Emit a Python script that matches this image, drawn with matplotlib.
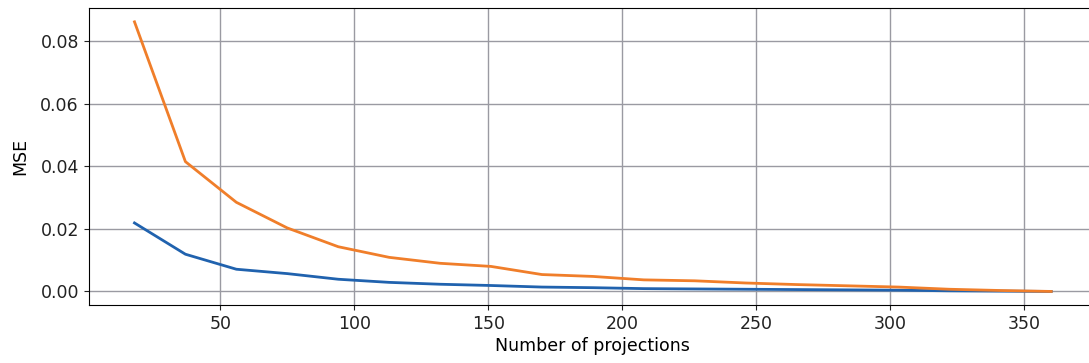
import numpy as np
import matplotlib
matplotlib.use("Agg")
import matplotlib.pyplot as plt

# Número de proyecciones y MSE de cada método
proyecciones = [18, 37, 56, 75, 94, 113, 132, 151, 170, 189, 208, 227, 246, 265, 284, 303, 322, 341, 360]
mse_azul = [0.0219, 0.0119, 0.0071, 0.0057, 0.0039, 0.0029, 0.0023, 0.0019, 0.0014, 0.0012,
            0.0009, 0.0008, 0.0007, 0.0006, 0.0005, 0.0004, 0.0002, 0.0001, 0.0000]
mse_naranja = [0.0862, 0.0415, 0.0285, 0.0203, 0.0143, 0.0109, 0.0090, 0.0080, 0.0054, 0.0048,
               0.0037, 0.0034, 0.0027, 0.0022, 0.0018, 0.0014, 0.0007, 0.0003, 0.0000]

fig = plt.figure(figsize=(10.89, 3.63), dpi=100)
ax = fig.add_axes([0.0814, 0.16, 0.926, 0.817])

ax.plot(proyecciones, mse_azul, color="#2062ae", linewidth=2)
ax.plot(proyecciones, mse_naranja, color="#f07e2a", linewidth=2)

ax.set_yticks([0.0, 0.02, 0.04, 0.06, 0.08])
ax.set_xticks([50, 100, 150, 200, 250, 300, 350])
ax.grid(True, color="#9a9aa2", linewidth=1)
ax.spines["right"].set_visible(False)  # la imagen original está recortada a la derecha
ax.tick_params(labelsize=12.5, colors="#222222")
ax.set_xlabel("Number of projections", fontsize=12.5, labelpad=3)
ax.set_ylabel("MSE", fontsize=12.5, labelpad=8)

plt.savefig("out.png", dpi=100)
